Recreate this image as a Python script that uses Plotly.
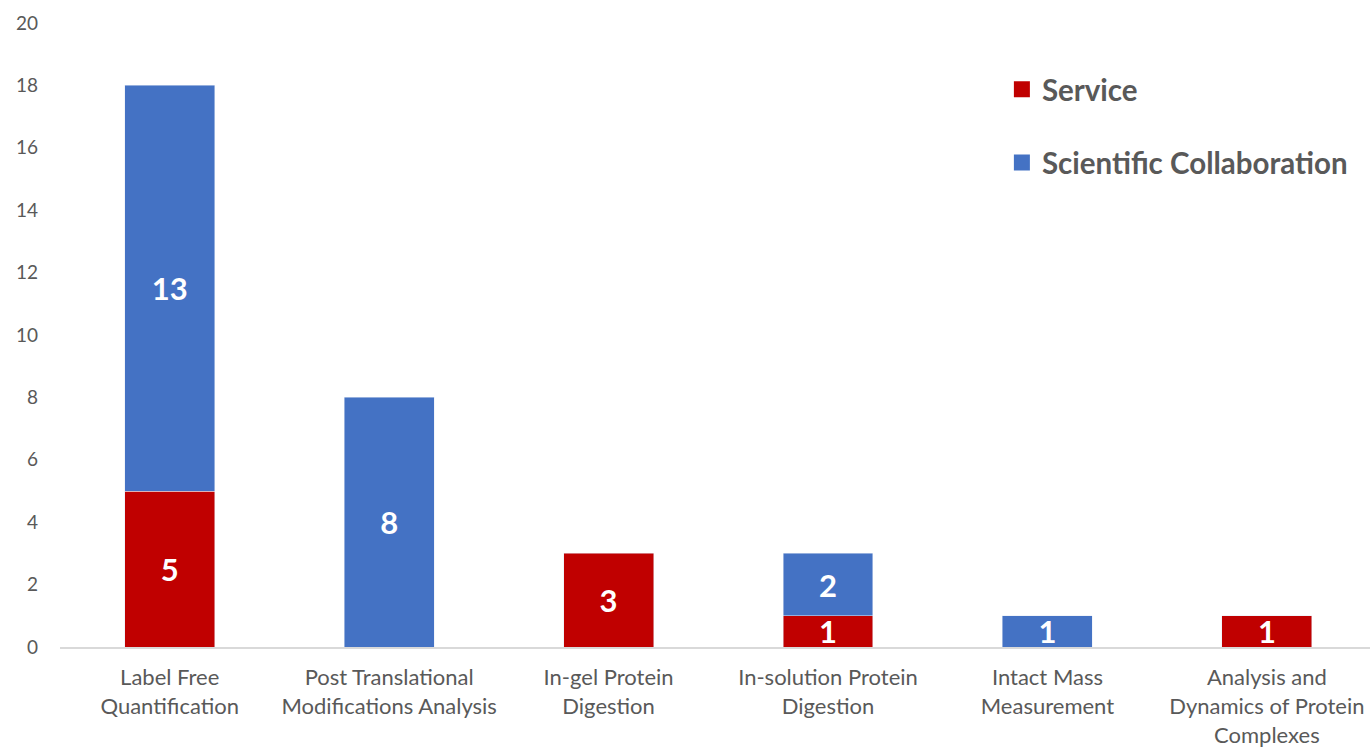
import plotly.graph_objects as go

categories = ["Label Free<br>Quantification",
              "Post Translational<br>Modifications Analysis",
              "In-gel Protein<br>Digestion",
              "In-solution Protein<br>Digestion",
              "Intact Mass<br>Measurement",
              "Analysis and<br>Dynamics of Protein<br>Complexes"]
service = [5, None, 3, 1, None, 1]
collaboration = [13, 8, None, 2, 1, None]
y_ticks = list(range(0, 21, 2))

SERVICE_C = "#C00000"
COLLAB_C = "#4472C4"
label_font = dict(family="Lato", size=31, color="white", weight="bold")

fig = go.Figure()
fig.add_trace(go.Bar(name="Service", x=categories, y=service,
                     marker_color=SERVICE_C, text=service,
                     texttemplate="%{y}", textposition="inside",
                     insidetextanchor="middle", textangle=0,
                     constraintext="none", showlegend=False,
                     textfont=label_font))
fig.add_trace(go.Bar(name="Scientific Collaboration", x=categories, y=collaboration,
                     marker_color=COLLAB_C, text=collaboration,
                     texttemplate="%{y}", textposition="inside",
                     insidetextanchor="middle", textangle=0,
                     constraintext="none", showlegend=False,
                     textfont=label_font))
# legend entries
for nm, c in [("Service", SERVICE_C), ("Scientific Collaboration", COLLAB_C)]:
    fig.add_trace(go.Scatter(name=nm, x=[None], y=[None], mode="markers",
                             marker=dict(symbol="square", size=16, color=c),
                             legendgroup=nm, showlegend=True))

fig.update_layout(
    barmode="stack",
    bargap=0.59,
    width=1370, height=748,
    margin=dict(l=60, r=0, t=23, b=101, autoexpand=False),
    plot_bgcolor="white", paper_bgcolor="white",
    font=dict(family="Lato", color="#595959"),
    legend=dict(x=0.719, y=0.935, xanchor="left", yanchor="top",
                traceorder="grouped", tracegroupgap=32, itemsizing="trace",
                font=dict(size=29.5, color="#595959", weight="bold"),
                bgcolor="rgba(0,0,0,0)"),
    xaxis=dict(showline=True, linecolor="#D9D9D9", linewidth=2,
               tickfont=dict(size=22, color="#595959"), ticks="",
               ticklabelstandoff=10,
               showgrid=False, automargin=False, range=[-0.5, 5.47]),
    yaxis=dict(range=[0, 20], tickvals=y_ticks, showgrid=False,
               zeroline=False, showline=False, automargin=False,
               tickfont=dict(size=19, color="#595959"), ticklabelstandoff=21),
)

fig.write_html("out.html", config={"displayModeBar": False},
               post_script="document.body.style.margin='0px';document.body.style.overflow='hidden';")
